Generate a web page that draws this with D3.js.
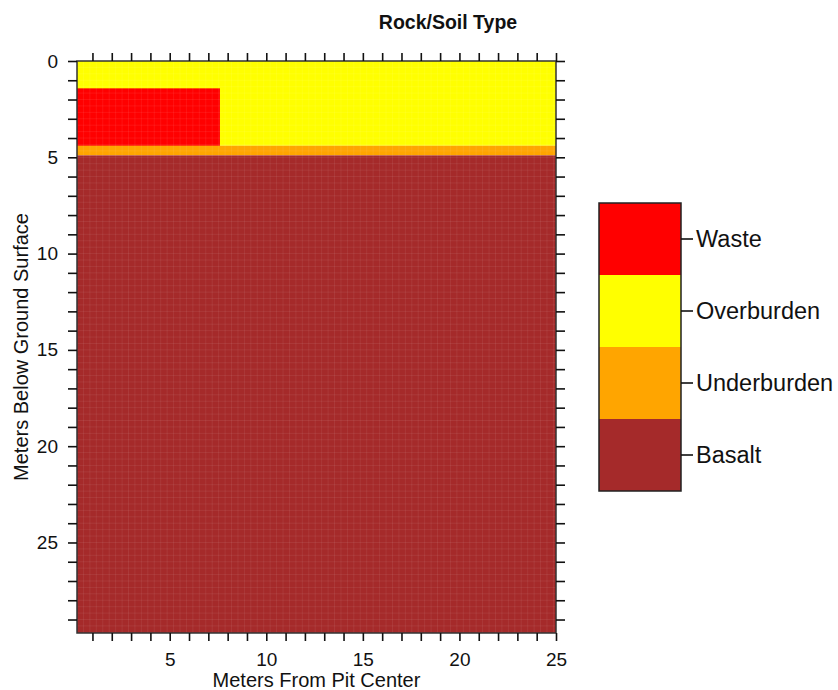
<!DOCTYPE html>
<html>
<head>
<meta charset="utf-8">
<script src="https://cdn.jsdelivr.net/npm/d3@7"></script>
<style>
  body { margin: 0; background: #fff; }
  text { font-family: 'Liberation Sans', Arial, Helvetica, sans-serif; fill: #111; }
</style>
</head>
<body>
<div id="chart"></div>
<script>
// Rock/soil categories, drawn in legend order
const categories = [ 'Waste', 'Overburden', 'Underburden', 'Basalt' ];
const categoryColors = [ '#ff0000', '#ffff00', '#ffa500', '#a52a2a' ];

// Layers in the pit cross section (meters), painted in this order
const layerType   = [ 'Overburden', 'Underburden', 'Basalt', 'Waste' ];
const layerLeft   = [ 0.2, 0.2, 0.2, 0.2 ];
const layerRight  = [ 25, 25, 25, 7.6 ];
const layerTop    = [ 0, 4.4, 4.9, 1.42 ];
const layerBottom = [ 4.4, 4.9, 29.7, 4.4 ];

// Tick values
const xTicks = [ 1, 2, 3, 4, 5, 6, 7, 8, 9, 10, 11, 12, 13, 14, 15, 16, 17, 18, 19, 20, 21, 22, 23, 24, 25 ];
const xLabels = [ 5, 10, 15, 20, 25 ];
const yTicks = [ 0, 1, 2, 3, 4, 5, 6, 7, 8, 9, 10, 11, 12, 13, 14, 15, 16, 17, 18, 19, 20, 21, 22, 23, 24, 25, 26, 27, 28, 29 ];
const yLabels = [ 0, 5, 10, 15, 20, 25 ];

const width = 838, height = 690;
const plot = { left: 77, top: 61, right: 556, bottom: 633 };

const svg = d3.select( '#chart' )
  .append( 'svg' )
    .attr( 'width', width )
    .attr( 'height', height );

const xScale = d3.scaleLinear()
    .domain( [ 0.2, 25 ] )
    .range( [ plot.left, plot.right ] );
const yScale = d3.scaleLinear()
    .domain( [ 0, 29.7 ] )
    .range( [ plot.top, plot.bottom ] );
const color = d3.scaleOrdinal()
    .domain( categories )
    .range( categoryColors );

const layers = layerType.map( function( t, i ) {
  return { type: t, x0: layerLeft[i], x1: layerRight[i], y0: layerTop[i], y1: layerBottom[i] };
});

// layer rectangles
svg.append( 'g' )
  .selectAll( 'rect' )
  .data( layers )
  .enter()
  .append( 'rect' )
    .attr( 'x', function( d ){ return xScale( d.x0 ); })
    .attr( 'y', function( d ){ return yScale( d.y0 ); })
    .attr( 'width', function( d ){ return xScale( d.x1 ) - xScale( d.x0 ); })
    .attr( 'height', function( d ){ return yScale( d.y1 ) - yScale( d.y0 ); })
    .style( 'fill', function( d ){ return color( d.type ); });

// faint cell grid of the model mesh
const cell = 1 / 3;
const grid = svg.append( 'g' ).attr( 'stroke', '#fff' ).attr( 'stroke-opacity', 0.07 ).attr( 'stroke-width', 1 );
d3.range( 0.2 + cell, 25, cell ).forEach( function( v ) {
  grid.append( 'line' ).attr( 'x1', xScale( v ) ).attr( 'x2', xScale( v ) ).attr( 'y1', plot.top ).attr( 'y2', plot.bottom );
});
d3.range( cell, 29.7, cell ).forEach( function( v ) {
  grid.append( 'line' ).attr( 'y1', yScale( v ) ).attr( 'y2', yScale( v ) ).attr( 'x1', plot.left ).attr( 'x2', plot.right );
});

// frame
svg.append( 'rect' )
  .attr( 'x', plot.left ).attr( 'y', plot.top )
  .attr( 'width', plot.right - plot.left ).attr( 'height', plot.bottom - plot.top )
  .style( 'fill', 'none' ).style( 'stroke', '#333' ).style( 'stroke-width', 1.5 );

function fmt( labels ) {
  return function( d ){ return labels.indexOf( d ) >= 0 ? d : ''; };
}

function styleAxis( g ) {
  g.select( '.domain' ).remove();
  g.selectAll( '.tick line' ).attr( 'stroke', '#111' ).attr( 'stroke-width', 1.6 );
  g.selectAll( '.tick text' ).style( 'font-size', '19px' ).style( 'fill', '#111' );
}

svg.append( 'g' )
    .attr( 'transform', 'translate( 0, ' + plot.bottom + ' )' )
    .call( d3.axisBottom( xScale ).tickValues( xTicks ).tickSize( 8 ).tickPadding( 12 ).tickFormat( fmt( xLabels ) ) )
    .call( styleAxis );
svg.append( 'g' )
    .attr( 'transform', 'translate( 0, ' + plot.top + ' )' )
    .call( d3.axisTop( xScale ).tickValues( xTicks ).tickSize( 8 ).tickFormat( '' ) )
    .call( styleAxis );
svg.append( 'g' )
    .attr( 'transform', 'translate( ' + plot.left + ', 0 )' )
    .call( d3.axisLeft( yScale ).tickValues( yTicks ).tickSize( 9 ).tickPadding( 10 ).tickFormat( fmt( yLabels ) ) )
    .call( styleAxis );
svg.append( 'g' )
    .attr( 'transform', 'translate( ' + plot.right + ', 0 )' )
    .call( d3.axisRight( yScale ).tickValues( yTicks ).tickSize( 9 ).tickFormat( '' ) )
    .call( styleAxis );

// titles
svg.append( 'text' )
  .attr( 'x', 448 ).attr( 'y', 29 )
  .attr( 'text-anchor', 'middle' )
  .style( 'font-size', '19.5px' ).style( 'font-weight', 'bold' )
  .text( 'Rock/Soil Type' );
svg.append( 'text' )
  .attr( 'x', ( plot.left + plot.right ) / 2 ).attr( 'y', 687 )
  .attr( 'text-anchor', 'middle' )
  .style( 'font-size', '20px' )
  .text( 'Meters From Pit Center' );
svg.append( 'text' )
  .attr( 'transform', 'translate( 28, ' + ( plot.top + plot.bottom ) / 2 + ' ) rotate( -90 )' )
  .attr( 'text-anchor', 'middle' )
  .style( 'font-size', '20px' )
  .text( 'Meters Below Ground Surface' );

// legend
const legend = { left: 599, right: 681, top: 203, bottom: 491 };
const legScale = d3.scaleBand()
    .domain( categories )
    .range( [ legend.top, legend.bottom ] );
svg.append( 'g' )
  .selectAll( 'rect' )
  .data( categories )
  .enter()
  .append( 'rect' )
    .attr( 'x', legend.left )
    .attr( 'y', function( d ){ return legScale( d ); })
    .attr( 'width', legend.right - legend.left )
    .attr( 'height', legScale.bandwidth() )
    .style( 'fill', function( d ){ return color( d ); });
svg.append( 'rect' )
  .attr( 'x', legend.left ).attr( 'y', legend.top )
  .attr( 'width', legend.right - legend.left ).attr( 'height', legend.bottom - legend.top )
  .style( 'fill', 'none' ).style( 'stroke', '#222' ).style( 'stroke-width', 1.5 );
const legAxis = svg.append( 'g' )
    .attr( 'transform', 'translate( ' + legend.right + ', 0 )' )
    .call( d3.axisRight( legScale ).tickSize( 12 ).tickPadding( 3 ) );
legAxis.select( '.domain' ).remove();
legAxis.selectAll( '.tick line' ).attr( 'stroke', '#111' ).attr( 'stroke-width', 1.6 );
legAxis.selectAll( '.tick text' ).style( 'font-size', '23.5px' ).style( 'fill', '#111' );
</script>
</body>
</html>
